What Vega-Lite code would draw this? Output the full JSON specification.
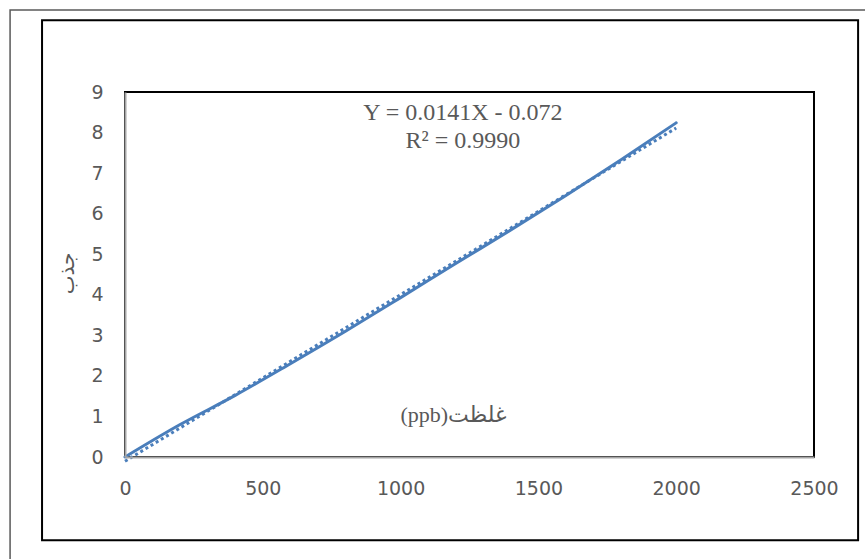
{
  "$schema": "https://vega.github.io/schema/vega-lite/v6.json",
  "width": 689,
  "height": 365,
  "autosize": {"type": "none"},
  "padding": {"left": 125, "top": 92, "right": 51, "bottom": 102},
  "background": "white",
  "config": {"view": {"stroke": null}},
  "data": {"values": [
    {"x": 0, "y": 0},
    {"x": 200, "y": 0.8},
    {"x": 400, "y": 1.52},
    {"x": 600, "y": 2.3},
    {"x": 800, "y": 3.1},
    {"x": 1000, "y": 3.93},
    {"x": 1200, "y": 4.77},
    {"x": 1400, "y": 5.6},
    {"x": 1600, "y": 6.45},
    {"x": 1800, "y": 7.33},
    {"x": 2000, "y": 8.24}
  ]},
  "layer": [
    {
      "data": {"values": [{}]},
      "mark": {"type": "rect", "fillOpacity": 0, "stroke": "#595959", "strokeWidth": 1.5, "clip": false},
      "encoding": {
        "x": {"datum": -417, "type": "quantitative"},
        "x2": {"datum": 2900},
        "y": {"datum": 11.02, "type": "quantitative"},
        "y2": {"datum": -3.2}
      }
    },
    {
      "data": {"values": [{}]},
      "mark": {"type": "rect", "fillOpacity": 0, "stroke": "#000000", "strokeWidth": 2, "clip": false},
      "encoding": {
        "x": {"datum": -301, "type": "quantitative"},
        "x2": {"datum": 2660},
        "y": {"datum": 10.77, "type": "quantitative"},
        "y2": {"datum": -2.05}
      }
    },
    {
      "data": {"values": [{}]},
      "mark": {"type": "rect", "fillOpacity": 0, "stroke": "#000000", "strokeWidth": 2},
      "encoding": {
        "x": {"datum": 0, "type": "quantitative"},
        "x2": {"datum": 2500},
        "y": {"datum": 0, "type": "quantitative"},
        "y2": {"datum": 9}
      }
    },
    {
      "data": {"values": [{}]},
      "mark": {"type": "text", "font": "Liberation Serif", "fontSize": 24, "color": "#595959", "align": "center", "baseline": "middle"},
      "encoding": {
        "x": {"datum": 1226, "type": "quantitative"},
        "y": {"datum": 8.48, "type": "quantitative"},
        "text": {"value": "Y = 0.0141X - 0.072"}
      }
    },
    {
      "data": {"values": [{}]},
      "mark": {"type": "text", "font": "Liberation Serif", "fontSize": 24, "color": "#595959", "align": "center", "baseline": "middle"},
      "encoding": {
        "x": {"datum": 1226, "type": "quantitative"},
        "y": {"datum": 7.8, "type": "quantitative"},
        "text": {"value": "R² = 0.9990"}
      }
    },
    {
      "transform": [{"regression": "y", "on": "x", "extent": [0, 2000]}],
      "mark": {"type": "line", "color": "#4A7EBB", "strokeWidth": 3, "strokeDash": [3, 3]},
      "encoding": {
        "x": {"field": "x", "type": "quantitative"},
        "y": {"field": "y", "type": "quantitative"}
      }
    },
    {
      "mark": {"type": "line", "color": "#4A7EBB", "strokeWidth": 3, "interpolate": "monotone", "strokeCap": "round"},
      "encoding": {
        "x": {
          "field": "x", "type": "quantitative",
          "scale": {"domain": [0, 2500], "nice": false, "zero": false},
          "axis": {
            "title": "\u202Bغلظت(ppb)\u202C",
            "values": [0, 500, 1000, 1500, 2000, 2500],
            "format": "d",
            "grid": false, "ticks": false,
            "domainColor": "#A6A6A6", "domainWidth": 2,
            "labelFont": "DejaVu Sans", "labelFontSize": 19, "labelColor": "#595959",
            "labelPadding": 22, "labelFlush": false,
            "titleFont": "Liberation Serif, DejaVu Sans", "titleFontSize": 22, "titleFontWeight": "normal", "titleColor": "#595959",
            "titleX": 328, "titleY": -43, "titleBaseline": "middle", "titleAlign": "center",
            "zindex": 1
          }
        },
        "y": {
          "field": "y", "type": "quantitative",
          "scale": {"domain": [0, 9], "nice": false, "zero": false},
          "axis": {
            "title": "جذب",
            "values": [0, 1, 2, 3, 4, 5, 6, 7, 8, 9],
            "format": "d",
            "grid": false, "ticks": false,
            "domainColor": "#A6A6A6", "domainWidth": 2,
            "labelFont": "DejaVu Sans", "labelFontSize": 19, "labelColor": "#595959",
            "labelPadding": 22, "labelFlush": false,
            "titleFont": "Liberation Serif, DejaVu Sans", "titleFontSize": 20, "titleFontWeight": "normal", "titleColor": "#595959",
            "titleAngle": -90, "titleX": -58, "titleY": 181, "titleBaseline": "middle", "titleAlign": "center",
            "zindex": 1
          }
        }
      }
    }
  ]
}
